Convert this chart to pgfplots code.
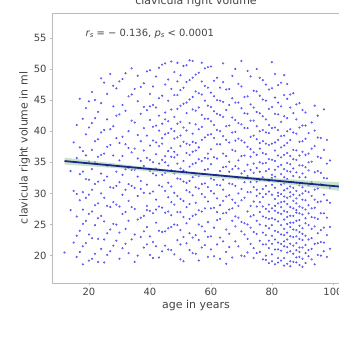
\documentclass[border=0pt]{standalone}
\usepackage{fontspec}
\setmainfont{DejaVu Sans}
\usepackage{pgfplots}
\pgfplotsset{compat=1.18}
\usepackage{pgfplotstable}
\definecolor{spine}{HTML}{BBBBBB}
\definecolor{txt}{HTML}{444444}
\definecolor{pts}{HTML}{4444F0}
\definecolor{fitline}{HTML}{1A2A8C}
\definecolor{band}{HTML}{A8CFA8}

\pgfplotstableread{
x y
12 20.5
15 22.1
15 30.4
15 38.2
16 26.3
16 19.8
16 35.7
16 41.0
17 28.9
17 24.0
17 45.2
17 33.1
18 21.5
18 36.8
18 30.2
18 18.6
18 27.4
19 39.5
19 25.6
19 32.3
19 43.7
20 23.4
20 29.8
20 35.1
20 40.6
20 19.2
21 27.1
21 33.9
21 46.3
21 22.8
21 37.0
22 31.5
22 24.9
22 42.1
22 20.3
23 35.9
23 28.4
23 38.7
23 26.0
24 33.2
24 21.1
24 44.5
24 30.0
24 39.8
25 47.8
25 29.3
25 25.5
25 36.4
25 18.9
26 32.7
26 41.9
26 23.6
26 37.5
27 27.8
27 34.6
27 49.2
27 20.7
27 40.3
28 30.9
28 44.0
28 25.1
28 36.1
29 38.9
29 22.4
29 33.5
29 46.9
29 28.2
30 35.3
30 42.7
30 19.5
30 31.8
31 26.7
31 39.1
31 48.4
31 33.0
32 24.3
32 37.9
32 30.6
32 43.3
32 21.9
33 34.1
33 28.8
33 45.6
33 40.0
34 36.6
34 22.6
34 31.2
34 50.1
35 41.4
35 27.5
35 33.8
35 19.0
35 37.2
36 29.6
36 44.8
36 35.6
36 25.8
37 32.0
37 47.1
37 38.4
37 23.0
37 30.7
38 43.9
38 26.4
38 36.9
38 21.3
38 34.4
39 39.3
39 28.0
39 49.6
39 31.4
39 24.6
40 33.6
40 46.0
40 20.1
40 37.7
40 41.8
40 27.2
41 35.0
41 30.3
41 44.2
41 22.2
41 38.5
42 48.8
42 32.9
42 25.3
42 40.9
42 36.3
42 29.0
43 42.5
43 34.8
43 19.7
43 27.9
43 45.3
44 31.1
44 38.0
44 50.7
44 23.8
44 35.4
44 41.2
45 36.0
45 26.9
45 43.0
45 33.3
45 21.6
45 47.5
46 29.4
46 39.7
46 34.5
46 24.4
46 44.9
46 31.7
47 40.4
47 51.2
47 28.6
47 37.3
47 20.9
47 33.7
48 35.8
48 45.8
48 30.1
48 25.0
48 42.3
48 38.8
49 32.4
49 48.0
49 27.0
49 39.0
49 22.5
49 36.2
49 43.6
50 41.5
50 29.1
50 34.0
50 46.6
50 24.1
50 37.6
50 19.4
51 38.3
51 50.5
51 31.9
51 26.2
51 44.4
51 35.2
52 30.5
52 42.9
52 36.5
52 22.0
52 47.9
52 33.4
52 40.1
53 45.1
53 28.3
53 37.8
53 51.4
53 25.9
53 34.3
54 39.6
54 32.6
54 43.5
54 20.4
54 29.7
54 48.6
54 36.7
55 34.9
55 41.1
55 26.6
55 46.4
55 31.0
55 38.1
55 23.3
56 49.4
56 37.4
56 30.8
56 43.8
56 27.3
56 35.5
57 33.1
57 40.7
57 24.7
57 45.9
57 29.9
57 38.6
57 51.0
58 42.0
58 35.7
58 21.7
58 31.6
58 47.3
58 27.6
59 36.4
59 44.1
59 28.7
59 39.4
59 33.9
59 50.3
59 25.4
60 30.4
60 41.6
60 37.1
60 23.1
60 46.2
60 34.7
61 43.2
61 32.2
61 27.7
61 38.9
61 48.1
61 19.9
62 35.6
62 40.2
62 29.2
62 45.0
62 25.7
62 33.0
63 37.9
63 31.3
63 42.6
63 22.9
63 47.0
63 28.1
64 34.2
64 44.7
64 26.8
64 39.2
64 30.6
64 50.9
65 40.8
65 29.5
65 36.0
65 24.2
65 43.4
65 32.8
65 18.7
66 46.8
66 33.5
66 27.4
66 38.2
66 21.4
66 35.1
67 31.5
67 42.2
67 37.0
67 25.6
67 48.9
67 29.0
68 39.9
68 34.4
68 22.3
68 44.6
68 28.5
68 36.8
69 35.3
69 47.6
69 30.0
69 41.3
69 26.1
69 32.5
70 38.5
70 23.9
70 43.7
70 33.2
70 28.9
70 51.3
70 20.0
71 36.1
71 45.5
71 31.8
71 25.2
71 40.5
71 29.3
72 42.8
72 34.6
72 27.1
72 37.5
72 22.7
72 49.7
73 33.8
73 39.1
73 30.2
73 24.5
73 44.3
73 28.0
73 35.9
74 41.7
74 26.5
74 36.6
74 31.0
74 46.5
74 21.2
74 33.3
75 29.6
75 38.7
75 23.5
75 43.1
75 34.1
75 27.9
75 50.0
75 31.9
76 37.2
76 25.0
76 45.7
76 32.1
76 28.6
76 40.0
76 20.6
76 35.0
77 34.8
77 42.4
77 26.3
77 30.7
77 23.7
77 38.4
77 48.2
77 29.4
78 31.2
78 39.8
78 24.8
78 36.3
78 21.8
78 44.9
78 27.5
78 33.6
78 19.3
79 41.0
79 28.2
79 35.5
79 22.4
79 46.7
79 30.3
79 25.9
79 37.8
80 33.0
80 26.0
80 43.9
80 29.8
80 38.0
80 23.2
80 51.1
80 31.4
80 20.2
81 36.9
81 27.2
81 40.6
81 24.0
81 32.7
81 45.4
81 21.0
81 29.1
81 35.2
82 30.1
82 38.6
82 25.5
82 42.7
82 22.1
82 34.3
82 28.4
82 47.4
82 19.6
82 32.0
83 35.8
83 23.4
83 29.9
83 41.5
83 26.7
83 37.4
83 20.8
83 33.1
83 44.0
83 27.8
84 31.6
84 39.3
84 24.3
84 28.7
84 36.2
84 21.5
84 49.0
84 33.9
84 25.8
84 30.5
84 18.4
85 27.0
85 34.9
85 22.6
85 42.1
85 30.8
85 25.1
85 38.1
85 20.5
85 45.2
85 32.3
85 28.3
86 36.0
86 24.6
86 29.5
86 21.9
86 40.3
86 33.5
86 26.4
86 31.1
86 43.8
86 19.1
87 30.9
87 23.0
87 37.0
87 27.6
87 34.0
87 20.3
87 46.1
87 25.3
87 32.8
87 28.8
88 26.9
88 35.4
88 22.0
88 39.6
88 29.2
88 31.7
88 24.1
88 41.9
88 18.9
88 33.4
88 27.3
89 32.6
89 25.7
89 38.3
89 21.3
89 29.7
89 44.5
89 23.8
89 34.5
89 27.9
89 19.8
90 29.0
90 36.7
90 24.4
90 22.5
90 33.2
90 40.9
90 26.6
90 31.0
90 18.2
91 27.4
91 34.2
91 21.7
91 30.4
91 38.8
91 25.2
91 43.0
92 31.3
92 24.9
92 36.4
92 28.1
92 20.9
92 33.7
93 26.2
93 35.1
93 22.8
93 41.4
93 29.6
93 19.4
94 30.6
94 24.7
94 37.6
94 27.7
94 44.1
95 33.6
95 23.6
95 28.6
95 20.1
95 39.0
96 26.8
96 35.7
96 22.2
96 31.5
97 29.8
97 24.5
97 43.5
97 20.7
98 32.4
98 26.1
98 38.6
98 23.3
99 28.5
99 21.1
99 35.3
}\scatterdata

\pgfplotstableread[row sep=\\]{
x y\\
14 27.3\\ 14 33.6\\ 16 29.9\\ 16 23.2\\ 17 37.4\\ 17 20.6\\
18 42.0\\ 18 25.1\\ 18 33.5\\ 19 22.0\\ 19 29.3\\ 19 36.1\\
20 44.8\\ 20 26.7\\ 20 32.2\\ 21 30.6\\ 21 19.5\\ 21 41.3\\
22 35.0\\ 22 28.1\\ 22 38.4\\ 22 45.0\\ 23 22.7\\ 23 31.9\\ 23 43.1\\ 23 19.0\\
24 26.4\\ 24 36.2\\ 24 48.5\\ 25 32.1\\ 25 40.2\\ 25 22.6\\
26 28.0\\ 26 46.0\\ 26 20.1\\ 26 34.4\\ 27 24.2\\ 27 31.0\\ 27 37.8\\
28 21.6\\ 28 28.6\\ 28 40.8\\ 28 47.3\\ 29 25.0\\ 29 31.2\\ 29 42.5\\
30 23.7\\ 30 27.9\\ 30 38.1\\ 30 48.0\\ 31 21.2\\ 31 29.8\\ 31 36.0\\ 31 44.2\\
32 27.0\\ 32 33.9\\ 32 49.3\\ 33 20.4\\ 33 25.6\\ 33 31.5\\ 33 37.3\\
34 27.8\\ 34 41.7\\ 34 45.9\\ 34 33.8\\ 35 23.4\\ 35 30.9\\ 35 46.8\\
36 20.0\\ 36 32.7\\ 36 39.4\\ 36 48.9\\ 37 26.1\\ 37 35.2\\ 37 42.8\\
38 23.9\\ 38 30.1\\ 38 40.5\\ 38 47.7\\ 39 21.8\\ 39 35.7\\ 39 43.4\\ 39 27.3\\
40 23.1\\ 40 30.0\\ 40 35.4\\ 40 49.8\\ 40 44.0\\
41 26.8\\ 41 33.2\\ 41 40.7\\ 41 47.2\\ 41 19.6\\
42 21.5\\ 42 27.4\\ 42 34.0\\ 42 43.8\\ 42 38.2\\
43 24.0\\ 43 31.3\\ 43 37.6\\ 43 40.1\\ 43 50.2\\
44 20.7\\ 44 27.7\\ 44 33.0\\ 44 45.7\\ 44 38.9\\
45 23.9\\ 45 30.4\\ 45 39.5\\ 45 41.9\\ 45 50.9\\ 45 35.0\\
46 21.0\\ 46 27.1\\ 46 36.8\\ 46 41.6\\ 46 48.3\\
47 24.6\\ 47 31.1\\ 47 35.9\\ 47 43.5\\ 47 46.8\\ 47 26.5\\
48 20.2\\ 48 28.2\\ 48 33.2\\ 48 40.0\\ 48 49.5\\ 48 36.7\\
49 24.9\\ 49 29.6\\ 49 34.8\\ 49 41.2\\ 49 45.8\\ 49 51.0\\
50 21.8\\ 50 27.0\\ 50 32.3\\ 50 39.3\\ 50 44.1\\ 50 49.0\\
51 23.0\\ 51 28.8\\ 51 33.7\\ 51 40.6\\ 51 47.0\\ 51 19.1\\
52 25.2\\ 52 31.7\\ 52 38.0\\ 52 44.6\\ 52 50.6\\ 52 27.8\\
53 20.9\\ 53 30.2\\ 53 32.0\\ 53 36.2\\ 53 41.3\\ 53 48.2\\ 53 23.6\\
54 22.9\\ 54 26.4\\ 54 34.7\\ 54 38.3\\ 54 45.5\\ 54 51.3\\
55 20.3\\ 55 28.5\\ 55 33.0\\ 55 36.9\\ 55 43.3\\ 55 49.1\\
56 22.5\\ 56 25.0\\ 56 32.8\\ 56 40.3\\ 56 46.1\\ 56 19.2\\
57 21.3\\ 57 27.1\\ 57 35.2\\ 57 42.6\\ 57 48.0\\ 57 31.5\\
58 23.9\\ 58 29.4\\ 58 33.8\\ 58 39.0\\ 58 44.9\\ 58 50.1\\
59 19.8\\ 59 23.0\\ 59 31.0\\ 59 35.6\\ 59 42.0\\ 59 47.0\\
60 21.0\\ 60 27.6\\ 60 32.4\\ 60 39.5\\ 60 43.9\\ 60 50.4\\
61 24.5\\ 61 30.0\\ 61 35.8\\ 61 41.0\\ 61 45.6\\
62 21.8\\ 62 27.0\\ 62 31.4\\ 62 37.9\\ 62 42.8\\ 62 48.6\\
63 19.5\\ 63 25.9\\ 63 33.6\\ 63 40.0\\ 63 44.9\\
64 22.3\\ 64 28.8\\ 64 32.2\\ 64 36.4\\ 64 42.3\\ 64 47.9\\
65 20.6\\ 65 26.9\\ 65 34.3\\ 65 38.6\\ 65 46.7\\
66 23.5\\ 66 29.7\\ 66 31.6\\ 66 40.9\\ 66 44.2\\
67 19.7\\ 67 27.6\\ 67 33.9\\ 67 39.8\\ 67 45.3\\
68 24.7\\ 68 26.3\\ 68 31.2\\ 68 38.5\\ 68 41.8\\ 68 50.0\\
69 21.5\\ 69 28.0\\ 69 34.0\\ 69 38.8\\ 69 44.6\\
70 25.4\\ 70 30.7\\ 70 36.0\\ 70 41.1\\ 70 47.2\\
71 19.9\\ 71 23.4\\ 71 33.6\\ 71 38.2\\ 71 42.9\\
72 20.5\\ 72 25.0\\ 72 30.2\\ 72 32.8\\ 72 40.5\\ 72 45.6\\
73 21.9\\ 73 26.3\\ 73 31.8\\ 73 37.1\\ 73 41.7\\ 73 48.8\\
74 19.6\\ 74 23.8\\ 74 28.7\\ 74 34.8\\ 74 39.3\\ 74 43.8\\
75 20.4\\ 75 25.6\\ 75 30.6\\ 75 36.2\\ 75 40.8\\ 75 46.4\\
76 22.4\\ 76 27.0\\ 76 30.0\\ 76 33.5\\ 76 38.1\\ 76 42.9\\ 76 48.6\\
77 19.4\\ 77 21.8\\ 77 27.9\\ 77 32.6\\ 77 36.5\\ 77 40.2\\ 77 45.1\\
78 20.0\\ 78 23.3\\ 78 26.1\\ 78 29.9\\ 78 34.9\\ 78 38.0\\ 78 41.9\\ 78 47.5\\
79 18.8\\ 79 21.2\\ 79 24.4\\ 79 27.1\\ 79 32.0\\ 79 33.9\\ 79 39.7\\ 79 43.6\\
80 19.1\\ 80 21.9\\ 80 24.9\\ 80 27.6\\ 80 32.5\\ 80 35.4\\ 80 40.5\\ 80 46.9\\
81 18.6\\ 81 22.6\\ 81 25.8\\ 81 28.0\\ 81 30.9\\ 81 33.8\\ 81 38.2\\ 81 42.8\\ 81 49.2\\
82 18.9\\ 82 21.0\\ 82 23.8\\ 82 26.9\\ 82 29.6\\ 82 36.1\\ 82 40.2\\ 82 44.6\\
83 19.2\\ 83 21.9\\ 83 24.9\\ 83 28.6\\ 83 31.4\\ 83 34.6\\ 83 39.2\\ 83 47.8\\
84 19.6\\ 84 22.3\\ 84 23.3\\ 84 27.2\\ 84 29.5\\ 84 32.6\\ 84 37.7\\ 84 42.4\\ 84 45.8\\
85 18.7\\ 85 21.4\\ 85 23.7\\ 85 26.2\\ 85 29.3\\ 85 33.6\\ 85 36.5\\ 85 40.0\\ 85 47.6\\
86 18.3\\ 86 20.7\\ 86 23.1\\ 86 25.3\\ 86 27.8\\ 86 30.2\\ 86 34.7\\ 86 38.6\\ 86 45.9\\
87 19.0\\ 87 21.6\\ 87 24.2\\ 87 26.4\\ 87 29.8\\ 87 31.9\\ 87 35.5\\ 87 39.8\\ 87 42.9\\
88 19.7\\ 88 20.9\\ 88 23.1\\ 88 25.6\\ 88 28.4\\ 88 30.4\\ 88 36.9\\ 88 44.3\\
89 18.5\\ 89 20.6\\ 89 22.7\\ 89 24.8\\ 89 26.8\\ 89 31.3\\ 89 36.1\\ 89 40.6\\
90 19.5\\ 90 21.3\\ 90 23.5\\ 90 27.7\\ 90 30.0\\ 90 34.5\\ 90 38.4\\ 90 43.4\\
91 18.8\\ 91 20.4\\ 91 23.2\\ 91 26.0\\ 91 28.9\\ 91 32.6\\ 91 36.2\\ 91 40.9\\
92 19.9\\ 92 22.6\\ 92 26.8\\ 92 30.2\\ 92 35.0\\ 92 39.7\\
93 21.1\\ 93 24.3\\ 93 27.6\\ 93 31.8\\ 93 37.2\\
94 18.6\\ 94 21.9\\ 94 26.1\\ 94 29.0\\ 94 33.4\\ 94 40.1\\
95 22.0\\ 95 25.9\\ 95 30.8\\ 95 35.9\\ 95 42.5\\
96 20.0\\ 96 24.1\\ 96 28.7\\ 96 33.3\\ 96 38.9\\
97 22.1\\ 97 26.8\\ 97 32.5\\ 97 37.0\\
98 19.8\\ 98 28.9\\ 98 34.8\\ 99 24.6\\ 99 30.9\\
}\scatterdatab

\begin{document}
\begin{tikzpicture}
\useasboundingbox (0,0) rectangle (339bp,338bp);
\clip (0,0) rectangle (339bp,338bp);
\begin{axis}[
  at={(52bp,55bp)}, anchor=south west,
  scale only axis, width=288bp, height=270bp,
  xmin=7.9, xmax=102.3, ymin=15.6, ymax=59.0,
  xtick={20,40,60,80,100}, ytick={20,25,30,35,40,45,50,55},
  axis line style={spine, line width=0.8bp},
  tick style={spine, line width=0.6bp},
  tick align=outside, major tick length=2bp,
  xtick pos=bottom, ytick pos=left,
  /pgf/number format/assume math mode=true,
  ticklabel style={font=\fontsize{10}{12}\selectfont, text=txt},
  xlabel={age in years}, ylabel={clavicula right volume in ml},
  label style={font=\fontsize{11}{13}\selectfont, text=txt},
  xlabel style={yshift=3bp},
  ylabel style={yshift=-3bp},
  title={clavicula right volume},
  title style={at={(0.5,1)}, anchor=base, yshift=3bp, font=\fontsize{11}{13}\selectfont, text=txt},
  clip mode=individual,
]
\addplot[only marks, color=pts, mark=*, mark size=0.85bp, mark options={draw=none, fill=pts, fill opacity=0.33}] table[x=x,y=y] {\scatterdata};
\addplot[only marks, color=pts, mark=*, mark size=0.85bp, mark options={draw=none, fill=pts, fill opacity=0.33}] table[x=x,y=y] {\scatterdatab};
\addplot[draw=none, fill=band, fill opacity=0.6] coordinates {
(12,35.75) (30,34.73) (55,33.29) (80,32.45) (95,31.97) (102.3,31.80)
(102.3,30.40) (95,30.87) (80,31.75) (55,32.79) (30,34.03) (12,34.65)
} -- cycle;
\addplot[fitline, line width=1.8bp] coordinates {(12,35.2) (102.3,31.09)};
\node[anchor=base west, font=\fontsize{10}{12}\selectfont, text=txt] at (axis cs:17.8,55.3)
  {{\itshape r}\raisebox{-0.35ex}{\fontsize{7}{8}\selectfont\itshape s} = − 0.136, {\itshape p}\raisebox{-0.35ex}{\fontsize{7}{8}\selectfont\itshape s} < 0.0001};
\end{axis}
\end{tikzpicture}
\end{document}
